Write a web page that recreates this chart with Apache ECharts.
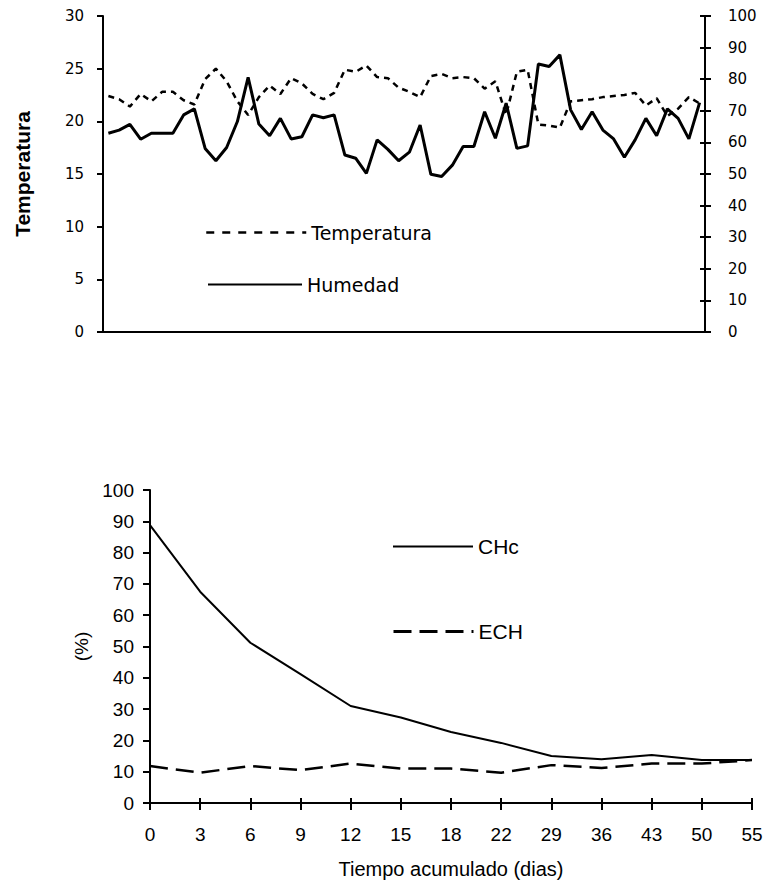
<!DOCTYPE html>
<html>
<head>
<meta charset="utf-8">
<script src="https://cdn.jsdelivr.net/npm/echarts@6/dist/echarts.min.js"></script>
<style>
html,body{margin:0;padding:0;background:#fff;}
#c{width:768px;height:884px;}
</style>
</head>
<body>
<div id="c"></div>
<script>
// ---- Top chart data ----
const dias = ['1','2','3','4','5','6','7','8','9','10','11','12','13','14','15','16','17','18','19','20',
  '21','22','23','24','25','26','27','28','29','30','31','32','33','34','35','36','37','38','39','40',
  '41','42','43','44','45','46','47','48','49','50','51','52','53','54','55','56'];
const temperatura = [22.4,22.1,21.4,22.6,21.9,22.8,22.8,22.0,21.6,24.0,
  25.0,23.8,21.9,20.6,22.3,23.4,22.6,24.1,23.6,22.6,
  22.1,22.7,24.9,24.7,25.3,24.2,24.1,23.2,22.8,22.3,
  24.3,24.5,24.1,24.2,24.1,23.1,23.8,20.6,24.7,24.9,
  19.7,19.6,19.4,21.9,22.0,22.1,22.3,22.4,22.5,22.7,
  21.5,22.2,20.5,21.2,22.3,21.7];
const humedad = [62.9,63.9,65.7,61.0,62.9,62.9,62.9,68.7,70.6,58.1,
  54.2,58.4,66.6,80.6,65.8,62.1,67.6,61.1,61.8,68.7,
  67.8,68.7,56.0,55.0,50.2,60.8,57.8,54.2,56.9,65.5,
  49.9,49.2,52.8,58.7,58.7,69.7,61.3,72.4,58.1,58.9,
  84.8,84.0,87.7,70.3,64.1,69.7,63.9,61.1,55.3,60.8,
  67.6,62.1,70.6,67.6,61.1,72.6];

// ---- Bottom chart data ----
const tiempo = ['0','3','6','9','12','15','18','22','29','36','43','50','55'];
const chc = [88.8,67.5,51.2,41.2,31.0,27.3,22.7,19.2,15.0,14.0,15.3,13.7,13.7];
const ech = [11.8,9.7,11.8,10.5,12.6,11.0,11.0,9.7,12.1,11.2,12.6,12.6,13.7];

const black = '#000';
const chart = echarts.init(document.getElementById('c'), null, {renderer:'svg'});

const axLine = {show:true, lineStyle:{color:black, width:2}};
const topLbl = {color:black, fontFamily:'DejaVu Sans', fontSize:15};
const botLbl = {color:black, fontFamily:'Liberation Sans', fontSize:19};
const noSym = {opacity:0, borderWidth:0};

chart.setOption({
  animation:false,
  backgroundColor:'#fff',
  grid:[
    {left:103, top:16, width:602, height:316},
    {left:150, top:490, width:602, height:313}
  ],
  xAxis:[
    {gridIndex:0, type:'category', data:dias, boundaryGap:true, position:'bottom',
     axisLine:axLine, axisTick:{show:false}, axisLabel:{show:false}, splitLine:{show:false}},
    {gridIndex:1, type:'category', data:tiempo, boundaryGap:false, position:'bottom',
     axisLine:axLine,
     axisTick:{show:true, length:7, lineStyle:{color:black, width:2}},
     axisLabel:Object.assign({margin:22}, botLbl),
     name:'Tiempo acumulado (dias)', nameLocation:'middle', nameGap:56,
     nameTextStyle:{color:black, fontFamily:'Liberation Sans', fontSize:20},
     splitLine:{show:false}},
    {gridIndex:1, type:'category', data:tiempo, boundaryGap:false, position:'bottom',
     axisLine:{show:false},
     axisTick:{show:true, inside:true, length:5, lineStyle:{color:black, width:2}},
     axisLabel:{show:false}, splitLine:{show:false}}
  ],
  yAxis:[
    {gridIndex:0, type:'value', min:0, max:30, interval:5, position:'left',
     axisLine:axLine,
     axisTick:{show:true, length:6, lineStyle:{color:black, width:2}},
     axisLabel:Object.assign({margin:19}, topLbl),
     name:'Temperatura', nameLocation:'middle', nameGap:70,
     nameTextStyle:{color:black, fontFamily:'Liberation Sans', fontSize:21, fontWeight:'bold'},
     splitLine:{show:false}},
    {gridIndex:0, type:'value', min:0, max:100, interval:10, position:'right',
     axisLine:axLine,
     axisTick:{show:true, length:6, lineStyle:{color:black, width:2}},
     axisLabel:Object.assign({margin:23}, topLbl),
     splitLine:{show:false}},
    {gridIndex:0, type:'value', min:0, max:100, interval:10, position:'right',
     axisLine:{show:false},
     axisTick:{show:true, inside:true, length:5, lineStyle:{color:black, width:2}},
     axisLabel:{show:false}, splitLine:{show:false}},
    {gridIndex:1, type:'value', min:0, max:100, interval:10, position:'left',
     axisLine:axLine,
     axisTick:{show:true, length:7, lineStyle:{color:black, width:2}},
     axisLabel:Object.assign({margin:16}, botLbl),
     name:'(%)', nameLocation:'middle', nameGap:58,
     nameTextStyle:{color:black, fontFamily:'Liberation Sans', fontSize:19},
     splitLine:{show:false}}
  ],
  legend:[
    {data:['Temperatura'], left:205, top:223, padding:0, itemWidth:100, itemHeight:19,
     textStyle:{color:black, fontFamily:'DejaVu Sans', fontSize:19},
     itemStyle:noSym, lineStyle:{width:2.5, type:[8,8]}, selectedMode:false},
    {data:['Humedad'], left:207, top:275, padding:0, itemWidth:94, itemHeight:19,
     textStyle:{color:black, fontFamily:'DejaVu Sans', fontSize:19},
     itemStyle:noSym, lineStyle:{width:2}, selectedMode:false},
    {data:['CHc'], left:392, top:536, padding:0, itemWidth:80, itemHeight:21,
     textStyle:{color:black, fontFamily:'Liberation Sans', fontSize:21},
     itemStyle:noSym, lineStyle:{width:2}, selectedMode:false},
    {data:['ECH'], left:392, top:621, padding:0, itemWidth:80, itemHeight:21,
     textStyle:{color:black, fontFamily:'Liberation Sans', fontSize:21},
     itemStyle:noSym, lineStyle:{width:3, type:[18,8]}, selectedMode:false}
  ],
  series:[
    {name:'Temperatura', type:'line', xAxisIndex:0, yAxisIndex:0, data:temperatura,
     symbol:'none', color:black, lineStyle:{color:black, width:2.5, type:[6,5]}},
    {name:'Humedad', type:'line', xAxisIndex:0, yAxisIndex:1, data:humedad,
     symbol:'none', color:black, lineStyle:{color:black, width:3}},
    {name:'CHc', type:'line', xAxisIndex:1, yAxisIndex:3, data:chc,
     symbol:'none', color:black, lineStyle:{color:black, width:2}},
    {name:'ECH', type:'line', xAxisIndex:1, yAxisIndex:3, data:ech,
     symbol:'none', color:black, lineStyle:{color:black, width:2.5, type:[18,8]}}
  ]
});
</script>
</body>
</html>
